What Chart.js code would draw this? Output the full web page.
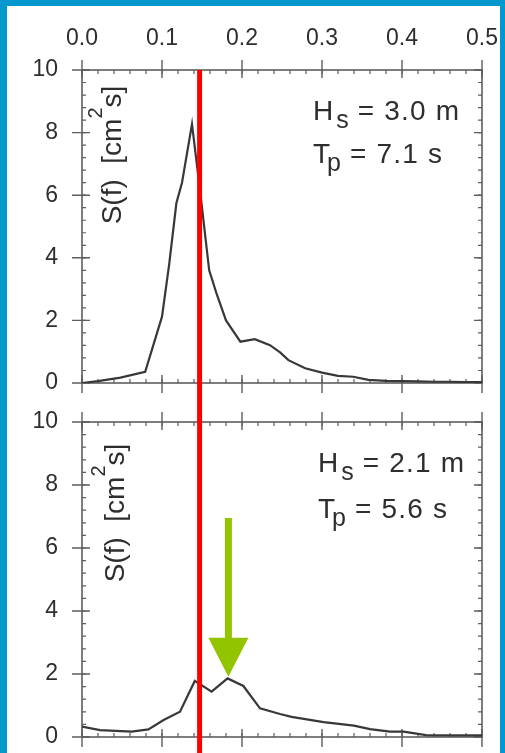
<!DOCTYPE html>
<html><head><meta charset="utf-8">
<script src="https://cdn.jsdelivr.net/npm/chart.js@4.4.1/dist/chart.umd.min.js"></script>
<style>
html,body{margin:0;padding:0;background:#0399cf;width:505px;height:753px;overflow:hidden}
#panel{position:absolute;left:7px;top:6px;width:493px;height:747px;background:#fff}
#c1{position:absolute;left:0;top:0}
#c2{position:absolute;left:0;top:400px}
</style></head><body>
<div id="panel"></div>
<canvas id="c1" width="505" height="400"></canvas>
<canvas id="c2" width="505" height="353"></canvas>
<script>
// ---- data ----
const xTicks = [0, 0.1, 0.2, 0.3, 0.4, 0.5];
const yTicks = [0, 2, 4, 6, 8, 10];

const freqTop = [0, 0.02, 0.048, 0.079, 0.100, 0.109, 0.118, 0.125, 0.1375, 0.144, 0.150, 0.159, 0.168, 0.180, 0.198, 0.216, 0.235, 0.248, 0.258, 0.279, 0.300, 0.320, 0.339, 0.358, 0.38, 0.40, 0.42, 0.44, 0.46, 0.48, 0.50];
const specTop = [0, 0.06, 0.17, 0.36, 2.12, 3.8, 5.75, 6.4, 8.27, 6.9, 5.6, 3.6, 2.87, 2.0, 1.32, 1.4, 1.21, 0.97, 0.73, 0.47, 0.33, 0.23, 0.2, 0.1, 0.07, 0.06, 0.05, 0.04, 0.04, 0.03, 0.03];

const freqBot = [0, 0.0225, 0.062, 0.083, 0.102, 0.1225, 0.141, 0.162, 0.182, 0.2017, 0.2225, 0.2475, 0.262, 0.302, 0.34, 0.36, 0.385, 0.402, 0.43, 0.46, 0.50];
const specBot = [0.33, 0.22, 0.17, 0.24, 0.54, 0.8, 1.78, 1.44, 1.86, 1.62, 0.91, 0.73, 0.64, 0.47, 0.36, 0.25, 0.17, 0.17, 0.06, 0.05, 0.05];

const annotTop = [["H", "s", " = 3.0 m"], ["T", "p", " = 7.1 s"]];
const annotBot = [["H", "s", " = 2.1 m"], ["T", "p", " = 5.6 s"]];
const yTitle = ["S(f)  [cm", "2", "s]"];

const markerFreq = 0.147;          // red vertical line
const arrowFreq = 0.183;           // green arrow position
const arrowTop = 6.95, arrowTip = 1.91;

const FONT = '"Liberation Sans", Arial, Helvetica, sans-serif';
const TXT = '#2e2e2e';
const AX = '#5e5e5e';

// ---- plugins ----
const framePlugin = {
  id: 'frame',
  beforeDatasetsDraw(chart) {
    const {ctx, chartArea: a, scales: {x, y}} = chart;
    ctx.save();
    ctx.strokeStyle = AX; ctx.lineWidth = 1.6;
    ctx.strokeRect(a.left, a.top, a.right - a.left, a.bottom - a.top);
    ctx.beginPath();
    ctx.lineWidth = 1.2;
    for (let i = 0; i <= 25; i++) {
      const px = x.getPixelForValue(i * 0.02);
      ctx.moveTo(px, a.top); ctx.lineTo(px, a.top + 4);
      ctx.moveTo(px, a.bottom); ctx.lineTo(px, a.bottom - 4);
    }
    for (let i = 0; i <= 25; i++) {
      const py = y.getPixelForValue(i * 0.4);
      ctx.moveTo(a.left, py); ctx.lineTo(a.left + 4, py);
      ctx.moveTo(a.right, py); ctx.lineTo(a.right - 4, py);
    }
    ctx.stroke();
    ctx.beginPath(); ctx.lineWidth = 1.4;
    xTicks.forEach(v => {
      const px = x.getPixelForValue(v);
      ctx.moveTo(px, a.top - 10); ctx.lineTo(px, a.top + 8);
      ctx.moveTo(px, a.bottom - 8); ctx.lineTo(px, a.bottom + 10);
    });
    yTicks.forEach(v => {
      const py = y.getPixelForValue(v);
      ctx.moveTo(a.left - 10, py); ctx.lineTo(a.left + 8, py);
      ctx.moveTo(a.right - 8, py); ctx.lineTo(a.right, py);
    });
    ctx.stroke();
    ctx.restore();
  }
};

function drawAnnot(ctx, lines, left, base1, base2) {
  const bases = [base1, base2];
  lines.forEach((ln, i) => {
    const b = bases[i];
    ctx.font = '28px ' + FONT;
    ctx.letterSpacing = '0px';
    ctx.fillText(ln[0], left, b);
    let xx = left + ctx.measureText(ln[0]).width + (ln[0] === 'T' ? -3 : 3);
    ctx.font = '25px ' + FONT;
    ctx.fillText(ln[1], xx, b + 8);
    xx += ctx.measureText(ln[1]).width;
    ctx.font = '28px ' + FONT;
    ctx.letterSpacing = '1.2px';
    ctx.fillText(ln[2], xx, b);
    ctx.letterSpacing = '0px';
  });
}

function drawYTitle(ctx, bx, cy) {
  ctx.save();
  ctx.translate(bx, cy);
  ctx.rotate(-Math.PI / 2);
  ctx.textBaseline = 'alphabetic';
  ctx.font = '28px ' + FONT;
  const w0 = ctx.measureText(yTitle[0]).width;
  const w2 = ctx.measureText(yTitle[2]).width;
  ctx.font = '20px ' + FONT;
  const w1 = ctx.measureText(yTitle[1]).width;
  let xx = -(w0 + w1 + w2) / 2;
  ctx.font = '28px ' + FONT;
  ctx.fillText(yTitle[0], xx, 0); xx += w0;
  ctx.font = '20px ' + FONT;
  ctx.fillText(yTitle[1], xx, -19); xx += w1;
  ctx.font = '28px ' + FONT;
  ctx.fillText(yTitle[2], xx, 0);
  ctx.restore();
}

const overlayPlugin = {
  id: 'overlay',
  afterDatasetsDraw(chart, args, opts) {
    const {ctx, chartArea: a, scales: {x, y}} = chart;
    ctx.save();
    ctx.fillStyle = TXT;
    ctx.textAlign = 'left';
    ctx.textBaseline = 'alphabetic';
    drawAnnot(ctx, opts.annot, a.left + opts.annotDx, a.top + 50, a.top + opts.line2);
    drawYTitle(ctx, a.left + opts.titleDx, a.top + opts.titleDy);
    const rx = x.getPixelForValue(markerFreq);
    ctx.strokeStyle = '#ff0000';
    ctx.lineWidth = 5;
    ctx.beginPath();
    ctx.moveTo(rx, opts.redFromTop ? a.top : 0);
    ctx.lineTo(rx, chart.height);
    ctx.stroke();
    if (opts.arrow) {
      const ax = x.getPixelForValue(arrowFreq);
      const yt = y.getPixelForValue(arrowTop);
      const yp = y.getPixelForValue(arrowTip);
      const hl = 39, hw = 20, sw = 3.5;
      ctx.fillStyle = '#92c400';
      ctx.beginPath();
      ctx.moveTo(ax - sw, yt);
      ctx.lineTo(ax + sw, yt);
      ctx.lineTo(ax + sw, yp - hl);
      ctx.lineTo(ax + hw, yp - hl);
      ctx.lineTo(ax, yp);
      ctx.lineTo(ax - hw, yp - hl);
      ctx.lineTo(ax - sw, yp - hl);
      ctx.closePath();
      ctx.fill();
    }
    ctx.restore();
  }
};

function zeroPad(s) { s.paddingTop = 0; s.paddingBottom = 0; s.paddingLeft = 0; s.paddingRight = 0; }

function makeChart(canvas, freq, spec, cfg) {
  return new Chart(canvas, {
    type: 'line',
    data: {
      datasets: [{
        data: freq.map((f, i) => ({x: f, y: spec[i]})),
        borderColor: '#383838', borderWidth: 2.2, pointRadius: 0, tension: 0, fill: false
      }]
    },
    options: {
      responsive: false, animation: false, events: [],
      layout: {autoPadding: false, padding: {left: 0, right: 23, top: cfg.padTop, bottom: cfg.padBottom}},
      plugins: {
        legend: {display: false}, tooltip: {enabled: false},
        overlay: cfg.overlay
      },
      scales: {
        x: {
          type: 'linear', position: 'top', min: 0, max: 0.5, display: cfg.showX,
          afterBuildTicks: s => { s.ticks = xTicks.map(v => ({value: v})); },
          ticks: {callback: v => v.toFixed(1), font: {family: FONT, size: 23}, color: TXT, padding: 18, maxRotation: 0, autoSkip: false},
          grid: {display: false, drawTicks: false}, border: {display: false},
          afterFit: s => { s.height = cfg.showX ? 70 : 0; zeroPad(s); }
        },
        y: {
          type: 'linear', min: 0, max: 10,
          afterBuildTicks: s => { s.ticks = yTicks.map(v => ({value: v})); },
          ticks: {font: {family: FONT, size: 23}, color: TXT, padding: 24, autoSkip: false},
          grid: {display: false, drawTicks: false}, border: {display: false},
          afterFit: s => { s.width = 82; zeroPad(s); }
        }
      }
    },
    plugins: [framePlugin, overlayPlugin]
  });
}

makeChart(document.getElementById('c1'), freqTop, specTop, {
  padTop: 0, padBottom: 17, showX: true,
  overlay: {annot: annotTop, annotDx: 231, line2: 93, titleDx: 39, titleDy: 85, redFromTop: true, arrow: false}
});
makeChart(document.getElementById('c2'), freqBot, specBot, {
  padTop: 22, padBottom: 16, showX: false,
  overlay: {annot: annotBot, annotDx: 236, line2: 96, titleDx: 42, titleDy: 91, redFromTop: false, arrow: true}
});
</script>
</body></html>
